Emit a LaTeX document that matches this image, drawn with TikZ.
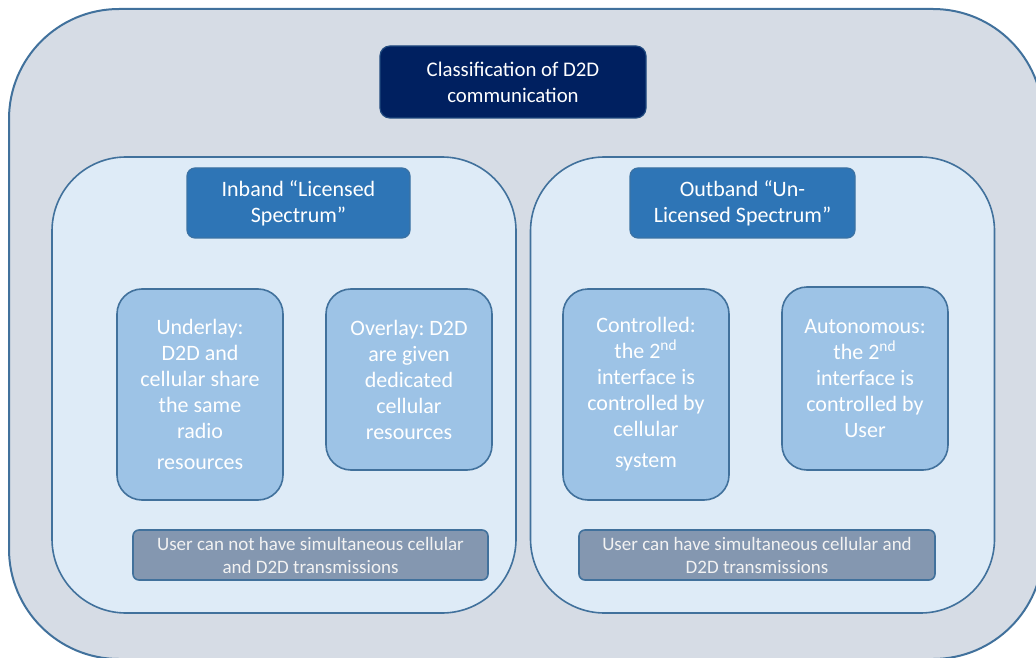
\documentclass[tikz,border=0pt]{standalone}
\usepackage{fontspec}
\setmainfont{Carlito}
\usepackage{xcolor}
\usepackage{tikz}
\usetikzlibrary{positioning}
\frenchspacing

\definecolor{vien}{HTML}{41719C}
\definecolor{nenngoai}{HTML}{D6DCE5}
\definecolor{nenkhung}{HTML}{DEEBF7}
\definecolor{xanhdam}{HTML}{002060}
\definecolor{xanhvua}{HTML}{2E75B6}
\definecolor{xanhnhat}{HTML}{9DC3E6}
\definecolor{xamxanh}{HTML}{8497B0}

\begin{document}
\begin{tikzpicture}[x=0.5pt, y=-0.5pt,
    chu/.style={font=\fontsize{11}{13}\selectfont, align=center, text=white},
    khung/.style={draw=vien, line width=0.8pt, fill=nenkhung, rounded corners=37pt,
        minimum width=232pt, minimum height=228pt},
    tieude/.style={chu, fill=xanhvua, draw=vien!70!xanhvua, line width=0.6pt,
        rounded corners=4pt, minimum height=35pt},
    hop/.style={chu, fill=xanhnhat, draw=vien, line width=0.8pt,
        rounded corners=12.5pt, minimum width=83pt, inner sep=1pt},
    ghichu/.style={chu, text=white!95!black, fill=xamxanh, draw=vien, line width=0.8pt,
        rounded corners=3pt, minimum height=25pt, inner sep=1pt}]
    \useasboundingbox (0,0) rectangle (1036,657);
    % 1. Khung ngoài
    \draw[draw=vien, line width=1pt, fill=nenngoai, rounded corners=55pt]
        (9,9) rectangle (1043,659);
    \node[chu, font=\fontsize{10.4}{13}\selectfont, fill=xanhdam, draw=vien!50!xanhdam,
        line width=0.6pt, rounded corners=5pt,
        minimum width=133pt, minimum height=36pt] (phanloai) at (513,82)
        {Classification of D2D\\communication};

    % 2. Hai khung con
    \node[khung] (trai) at (284,385) {};
    \node[khung] (phai) at (762.5,385) {};
    \node[tieude, minimum width=111.5pt] (inband) at (298.5,203)
        {Inband “Licensed\\Spectrum”};
    \node[tieude, minimum width=112.5pt] (outband) at (742.5,203)
        {Outband “Un-\\Licensed Spectrum”};

    % 3. Các ô bên trong
    \node[hop, minimum height=105.5pt] (underlay) at (200,394.5)
        {Underlay:\\D2D and\\cellular share\\the same\\radio\\[2.5pt]resources};
    \node[hop, minimum height=90.5pt] (overlay) at (409,379.5)
        {Overlay: D2D\\are given\\dedicated\\cellular\\resources};
    \node[hop, minimum height=105.5pt] (controlled) at (646,394.5)
        {Controlled:\\the 2\textsuperscript{nd}\\interface is\\controlled by\\cellular\\[2.5pt]system};
    \node[hop, minimum height=91.5pt] (autonomous) at (865,378.5)
        {Autonomous:\\the 2\textsuperscript{nd}\\interface is\\controlled by\\User};

    % 4. Ghi chú
    \node[ghichu, minimum width=177.5pt, font=\fontsize{9.5}{11.5}\selectfont] (khongdongthoi) at (310.5,555)
        {User can not have simultaneous cellular\\and D2D transmissions};
    \node[ghichu, minimum width=178pt, font=\fontsize{9.5}{11.5}\selectfont] (dongthoi) at (757,555)
        {User can have simultaneous cellular and\\D2D transmissions};
\end{tikzpicture}
\end{document}
